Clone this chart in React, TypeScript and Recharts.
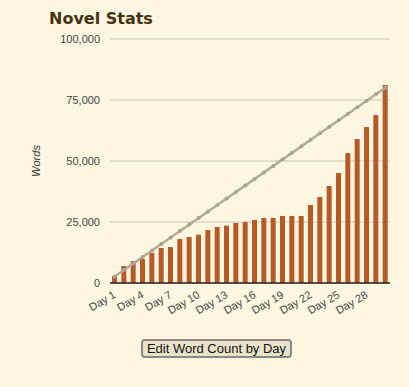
import React from "react";
import { ComposedChart, Bar, Line, XAxis, YAxis, CartesianGrid } from "recharts";

const days = Array.from({ length: 30 }, (_, i) => `Day ${i + 1}`);
const words = [
  2870, 6970, 9020, 9840, 12300, 14340, 14750, 18030, 18850, 19800,
  21720, 22950, 23500, 24590, 25000, 25820, 26640, 26640, 27460, 27460,
  27460, 31970, 35250, 39750, 45080, 53280, 59020, 63930, 68850, 81150,
];
const goal = [
  2667, 5333, 8000, 10667, 13333, 16000, 18667, 21333, 24000, 26667,
  29333, 32000, 34667, 37333, 40000, 42667, 45333, 48000, 50667, 53333,
  56000, 58667, 61333, 64000, 66667, 69333, 72000, 74667, 77333, 80000,
];
const yTicks = [0, 25000, 50000, 75000, 100000];

const data = days.map((d, i) => ({ day: d, words: words[i], goal: goal[i] }));

const bg = "#fdf7e1";

const XTick = (props: any) => {
  const { x, y, payload } = props;
  return (
    <text
      x={x + 2}
      y={y + 6}
      transform={`rotate(-30 ${x + 2} ${y + 6})`}
      textAnchor="end"
      fontSize={11}
      fill="#444"
      fontFamily="Arial, 'Liberation Sans', sans-serif"
    >
      {payload.value}
    </text>
  );
};

export default function App() {
  return (
    <div
      style={{
        position: "absolute",
        left: 0,
        top: 0,
        width: 409,
        height: 387,
        background: bg,
        fontFamily: "Arial, 'Liberation Sans', sans-serif",
      }}
    >
      <div
        style={{
          position: "absolute",
          left: 49,
          top: 9,
          fontFamily: "'DejaVu Sans', Verdana, sans-serif",
          fontWeight: "bold",
          fontSize: 16,
          color: "#46320f",
        }}
      >
        Novel Stats
      </div>
      <div style={{ position: "absolute", left: 0, top: 0 }}>
        <ComposedChart
          width={409}
          height={330}
          data={data}
          margin={{ top: 39, right: 19, bottom: 17, left: 0 }}
        >
          <CartesianGrid vertical={false} stroke="#c8c4bb" />
          <XAxis
            dataKey="day"
            interval={2}
            height={30}
            tickLine={false}
            axisLine={{ stroke: "#222", strokeWidth: 1.5 }}
            tick={<XTick />}
          />
          <YAxis
            width={110}
            domain={[0, 100000]}
            ticks={yTicks}
            tickLine={false}
            axisLine={false}
            tickMargin={4}
            tick={{ fontSize: 11, fill: "#444" }}
            tickFormatter={(v: number) => v.toLocaleString("en-US")}
            label={{
              value: "Words",
              angle: -90,
              position: "insideLeft",
              offset: 36,
              style: { fontSize: 11, fontStyle: "italic", fill: "#333", textAnchor: "middle" },
            }}
          />
          <Bar dataKey="words" fill="#b85a27" barSize={5} isAnimationActive={false} />
          <Line
            dataKey="goal"
            stroke="#b2ad98"
            strokeWidth={2.5}
            dot={{ r: 2, fill: "#a9a48e", stroke: "#a9a48e", strokeWidth: 0 }}
            isAnimationActive={false}
          />
        </ComposedChart>
      </div>
      <button
        style={{
          position: "absolute",
          left: 141,
          top: 339,
          width: 151,
          height: 19,
          padding: 0,
          background: "#e9e3c9",
          border: "2px solid #888",
          borderRadius: 4,
          fontSize: 13,
          fontFamily: "Arial, 'Liberation Sans', sans-serif",
          color: "#111",
        }}
      >
        Edit Word Count by Day
      </button>
    </div>
  );
}
